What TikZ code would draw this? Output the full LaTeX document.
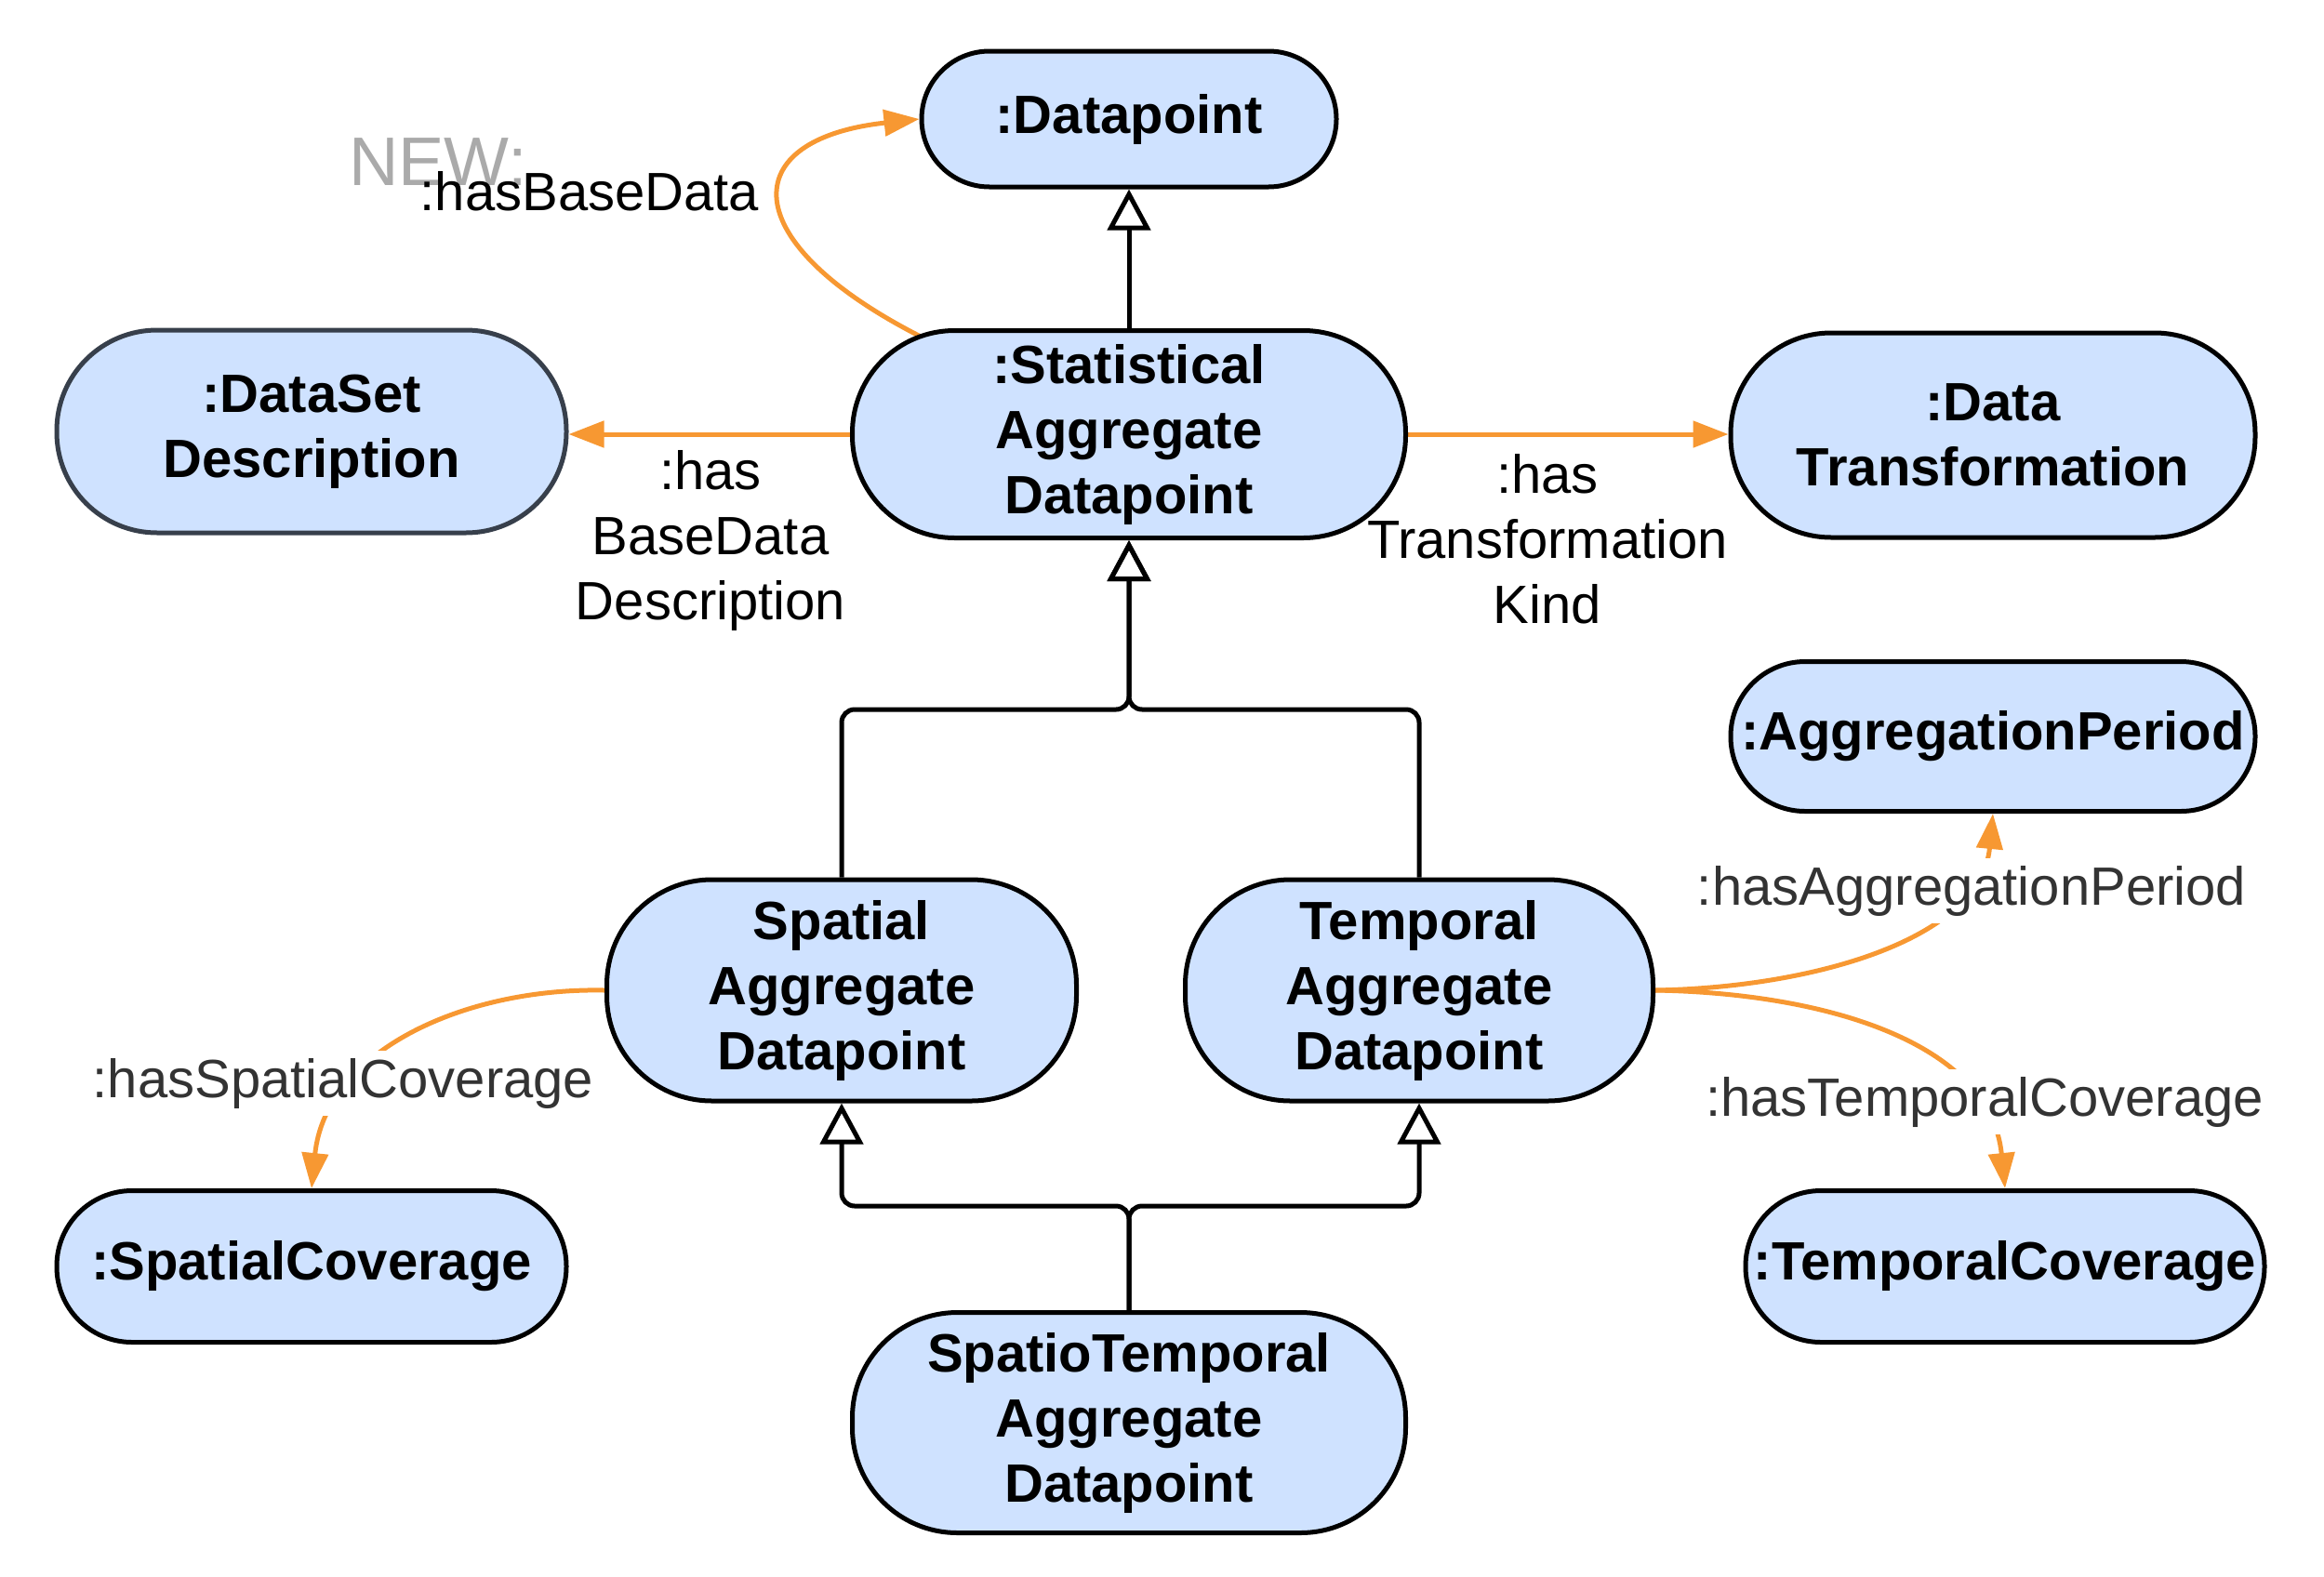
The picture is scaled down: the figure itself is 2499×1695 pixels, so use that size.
\documentclass[tikz,border=0pt]{standalone}
\usepackage{fontspec}
\setmainfont{Liberation Sans}
\usetikzlibrary{arrows.meta,calc}
\definecolor{nfill}{RGB}{207,226,255}
\definecolor{org}{RGB}{247,152,50}
\definecolor{lbl}{RGB}{51,51,51}
\definecolor{dsb}{RGB}{55,63,75}
\definecolor{newc}{RGB}{170,170,170}
\pgfdeclarelayer{bg}
\pgfsetlayers{bg,main}
\begin{document}
\begin{tikzpicture}[x=1pt,y=-1pt,
  cls/.style={draw=black, line width=5pt, fill=nfill, align=center, inner sep=0pt, font=\fontsize{58}{70}\selectfont\bfseries},
  lab/.style={font=\fontsize{58}{70}\selectfont, align=center, inner sep=0pt},
  glab/.style={lab, text=lbl, fill=white, inner sep=8pt},
  gen/.style={draw=black, line width=5pt, -{Triangle[open, length=44pt, width=46pt]}, rounded corners=14pt},
  assoc/.style={draw=org, line width=5pt, -{Triangle[length=38pt, width=28pt]}},
]
\useasboundingbox (0,0) rectangle (2499,1695);

\node[cls, minimum width=446pt, minimum height=146pt, rounded corners=73pt] (dp) at (1214,128) {:Datapoint};
\node[cls, minimum width=595pt, minimum height=223pt, rounded corners=110pt] (stat) at (1214,467) {:Statistical\\Aggregate\\Datapoint};
\node[cls, draw=dsb, minimum width=548pt, minimum height=218pt, rounded corners=108pt] (ds) at (335,464) {:DataSet\\Description};
\node[cls, minimum width=564pt, minimum height=220pt, rounded corners=108pt] (dt) at (2143,468) {:Data\\Transformation};
\node[cls, minimum width=564pt, minimum height=161pt, rounded corners=80pt] (ap) at (2143,792) {:AggregationPeriod};
\node[cls, minimum width=505pt, minimum height=238pt, rounded corners=113pt] (sp) at (905,1065) {Spatial\\Aggregate\\Datapoint};
\node[cls, minimum width=503pt, minimum height=238pt, rounded corners=113pt] (tp) at (1526,1065) {Temporal\\Aggregate\\Datapoint};
\node[cls, minimum width=548pt, minimum height=163pt, rounded corners=81pt] (spc) at (335,1362) {:SpatialCoverage};
\node[cls, minimum width=558pt, minimum height=163pt, rounded corners=81pt] (tc) at (2156,1362) {:TemporalCoverage};
\node[cls, minimum width=595pt, minimum height=237pt, rounded corners=113pt] (stp) at (1214,1530) {SpatioTemporal\\Aggregate\\Datapoint};

\begin{pgfonlayer}{bg}
\draw[gen] (stat.north) -- (dp.south);
\coordinate (j1) at (1214,763);
\draw[gen] (sp.north) |- (j1) -- (stat.south);
\draw[gen] (tp.north) |- (j1) -- (stat.south);
\coordinate (j2) at (1214,1297);
\draw[gen] (stp.north) -- (j2) -| (sp.south);
\draw[gen] (stp.north) -- (j2) -| (tp.south);
\draw[assoc] (stat.west) -- (ds.east |- stat.west);
\draw[assoc] (stat.east) -- (dt.west |- stat.east);
\coordinate (s1) at (990,362);
\draw[assoc] (s1) .. controls (790,260) and (790,150) .. (dp.west);
\draw[assoc] (sp.west) .. controls (500,1062) and (350,1130) .. (spc.north);
\draw[assoc] (tp.east) .. controls (1950,1062) and (2130,1010) .. (ap.south);
\draw[assoc] (tp.east) .. controls (1960,1068) and (2140,1120) .. (tc.north);
\end{pgfonlayer}

\node[lab, text=newc, font=\fontsize{74}{88}\selectfont, anchor=base] (new) at (471,199) {NEW:};
\node[lab, anchor=base] (l1) at (634,226) {:hasBaseData};
\node[lab] (l2) at (764,581) {:has\\BaseData\\Description};
\node[lab] (l3) at (1664,580) {:has\\Transformation\\Kind};
\node[glab, anchor=base] (l4) at (2120,973) {:hasAggregationPeriod};
\node[glab, anchor=base] (l5) at (2134,1200) {:hasTemporalCoverage};
\node[glab, anchor=base] (l6) at (369,1180) {:hasSpatialCoverage};
\end{tikzpicture}
\end{document}
